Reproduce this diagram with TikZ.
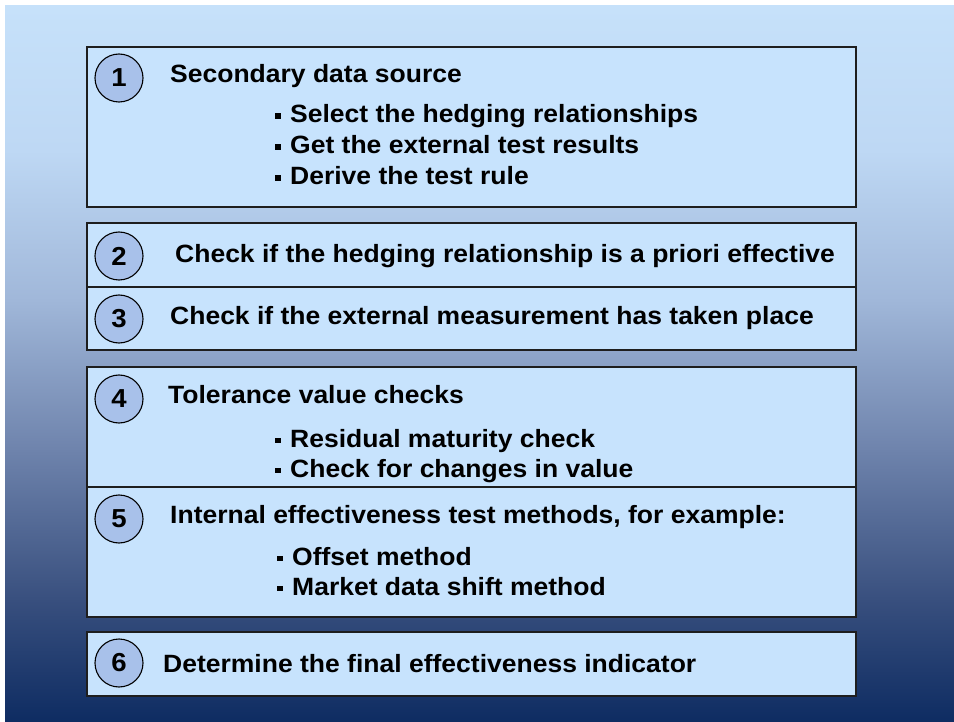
\documentclass[tikz,border=0pt]{standalone}
\usepackage{fontspec}
\newfontfamily\dfont{Liberation Sans}[FakeStretch=1.06]
\definecolor{bgA}{RGB}{198,225,250}
\definecolor{bgB}{RGB}{190,216,244}
\definecolor{bgC}{RGB}{160,183,217}
\definecolor{bgD}{RGB}{110,131,172}
\definecolor{bgE}{RGB}{56,79,126}
\definecolor{bgF}{RGB}{14,44,98}
\definecolor{boxfill}{RGB}{199,227,253}
\definecolor{boxline}{RGB}{30,30,30}
\definecolor{numfill}{RGB}{168,193,234}
\newcommand\sqb{\rule[0.16em]{0.22em}{0.22em}\hspace{0.38em}}
\begin{document}
\begin{tikzpicture}[x=1pt,y=-1pt,
  box/.style={draw=boxline,line width=1.4pt,fill=boxfill},
  divider/.style={draw=boxline,line width=1.2pt},
  numc/.style={circle,draw=black,line width=1.1pt,fill=numfill,minimum size=48pt,inner sep=0pt,font=\dfont\bfseries\fontsize{26}{30}\selectfont},
  txt/.style={anchor=base west,inner sep=0pt,font=\dfont\bfseries\fontsize{25}{30}\selectfont}]
\useasboundingbox (0,0) rectangle (954,722);
\fill[white] (0,0) rectangle (954,722);
\shade[top color=bgA,bottom color=bgB] (5,6) rectangle (954,151);
\shade[top color=bgB,bottom color=bgC] (5,150) rectangle (954,301);
\shade[top color=bgC,bottom color=bgD] (5,300) rectangle (954,451);
\shade[top color=bgD,bottom color=bgE] (5,450) rectangle (954,601);
\shade[top color=bgE,bottom color=bgF] (5,600) rectangle (954,722);
% boxes
\draw[box] (87,47) rectangle (856,207);
\draw[box] (87,223) rectangle (856,350);
\draw[divider] (87,287) -- (856,287);
\draw[box] (87,367) rectangle (856,617);
\draw[divider] (87,487) -- (856,487);
\draw[box] (87,632) rectangle (856,696);
% numbers
\node[numc] (n1) at (119,78) {1};
\node[numc] (n2) at (119,256) {2};
\node[numc] (n3) at (119,319) {3};
\node[numc] (n4) at (119,399) {4};
\node[numc] (n5) at (119,519) {5};
\node[numc] (n6) at (119,663) {6};
% texts
\node[txt] (t1) at (170,83) {Secondary data source};
\node[txt] (b11) at (275,123) {\sqb Select the hedging relationships};
\node[txt] (b12) at (275,154) {\sqb Get the external test results};
\node[txt] (b13) at (275,185) {\sqb Derive the test rule};
\node[txt] (t2) at (175,263) {Check if the hedging relationship is a priori effective};
\node[txt] (t3) at (170,324) {Check if the external measurement has taken place};
\node[txt] (t4) at (168,403) {Tolerance value checks};
\node[txt] (b41) at (275,447) {\sqb Residual maturity check};
\node[txt] (b42) at (275,477) {\sqb Check for changes in value};
\node[txt] (t5) at (170,523) {Internal effectiveness test methods, for example:};
\node[txt] (b51) at (277,565) {\sqb Offset method};
\node[txt] (b52) at (277,595) {\sqb Market data shift method};
\node[txt] (t6) at (163,672) {Determine the final effectiveness indicator};
\end{tikzpicture}
\end{document}
